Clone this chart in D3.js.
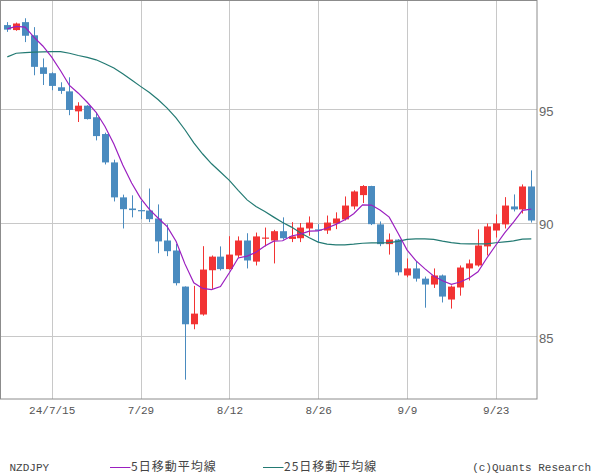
<!DOCTYPE html>
<html><head><meta charset="utf-8">
<script src="https://cdn.jsdelivr.net/npm/d3@7"></script>
<style>
html,body{margin:0;padding:0;background:#fff;}
svg{display:block;}
</style></head>
<body>
<svg id="chart" width="600" height="475"></svg>
<script>
const dates = ["7/8","7/9","7/10","7/11","7/12","7/15","7/16","7/17","7/18","7/19",
"7/22","7/23","7/24","7/25","7/26","7/29","7/30","7/31","8/1","8/2",
"8/5","8/6","8/7","8/8","8/9","8/12","8/13","8/14","8/15","8/16",
"8/19","8/20","8/21","8/22","8/23","8/26","8/27","8/28","8/29","8/30",
"9/2","9/3","9/4","9/5","9/6","9/9","9/10","9/11","9/12","9/13",
"9/16","9/17","9/18","9/19","9/20","9/23","9/24","9/25","9/26","9/27"];
const open = [98.71,98.49,98.84,98.26,96.85,96.59,95.97,95.79,94.91,95.16,94.65,93.91,92.66,91.12,90.63,90.56,90.54,90.19,89.22,88.78,87.19,85.53,85.96,87.91,88.51,87.96,88.56,89.22,88.29,89.32,89.22,89.63,89.29,89.32,89.75,89.71,89.66,89.97,90.15,90.72,91.22,91.62,89.93,89.06,89.26,87.68,87.99,87.54,87.28,87.68,86.62,87.15,87.99,88.12,88.96,89.66,89.93,90.72,90.59,91.60];
const high = [98.84,98.82,99.01,98.62,97.24,96.63,96.19,96.41,95.31,95.18,94.85,93.97,92.78,91.24,91.21,90.96,91.51,90.81,89.93,89.07,87.20,87.22,88.97,88.56,88.96,89.41,89.40,89.54,89.57,89.79,89.69,90.24,90.03,89.99,90.28,89.94,90.32,90.46,91.16,91.43,91.66,91.63,90.06,89.53,89.28,88.43,88.32,87.63,87.99,87.72,87.24,88.12,88.38,89.71,89.97,90.37,91.13,91.25,91.69,92.31];
const low = [98.41,98.46,97.96,96.50,96.07,95.84,95.68,94.74,94.44,94.55,93.63,92.57,90.94,89.75,90.24,90.16,90.03,88.66,88.53,87.24,83.09,85.31,85.91,87.09,87.90,87.94,88.46,87.99,88.12,88.96,88.21,89.26,89.15,89.15,89.43,89.15,89.51,89.72,90.10,90.59,90.87,89.90,88.97,88.60,87.68,87.60,87.41,86.26,87.13,86.49,86.22,86.79,87.46,88.07,88.56,89.35,89.75,90.50,90.41,90.01];
const close = [98.51,98.78,98.24,96.87,96.56,96.03,95.81,94.97,95.16,94.57,93.82,92.66,91.12,90.60,90.56,90.51,90.16,89.18,88.75,87.34,85.53,86.00,87.94,88.51,87.96,88.60,89.22,88.34,89.40,89.35,89.63,89.32,89.40,89.79,90.01,89.66,90.01,90.19,90.76,91.38,91.62,89.94,89.06,89.26,87.82,87.99,87.54,87.28,87.68,86.75,87.19,88.03,88.21,89.00,89.84,89.97,90.76,90.59,91.60,90.10];
const ma5 = [98.54,98.65,98.62,98.18,97.79,97.30,96.70,96.05,95.71,95.31,94.87,94.24,93.47,92.55,91.75,91.09,90.59,90.20,89.83,89.19,88.19,87.36,87.11,87.06,87.19,87.80,88.45,88.53,88.70,88.98,89.19,89.21,89.42,89.50,89.63,89.64,89.77,89.93,90.13,90.40,90.79,90.78,90.55,90.25,89.54,88.81,88.33,87.98,87.66,87.45,87.29,87.39,87.57,87.84,88.45,89.01,89.56,90.03,90.55,90.60];
const ma25 = [97.31,97.47,97.50,97.52,97.53,97.54,97.54,97.47,97.37,97.29,97.18,97.01,96.82,96.57,96.29,96.01,95.74,95.42,95.05,94.62,94.10,93.52,93.03,92.60,92.24,91.87,91.43,91.01,90.72,90.50,90.25,90.01,89.81,89.56,89.34,89.15,89.06,89.03,89.03,89.06,89.10,89.12,89.12,89.13,89.18,89.27,89.29,89.29,89.27,89.19,89.13,89.08,89.07,89.07,89.07,89.12,89.16,89.20,89.28,89.29];
const xTickDates = ["7/15","7/29","8/12","8/26","9/9","9/23"];
const xTickLabels = ["24/7/15","7/29","8/12","8/26","9/9","9/23"];
const yTicks = [85, 90, 95];
const legendItems = ["5日移動平均線", "25日移動平均線"];

const svg = d3.select("#chart");
const W = 537, H = 399;
const x = d3.scalePoint().domain(dates).range([7.3, 531.3]);
const y = d3.scaleLinear().domain([85, 95]).range([336.3, 109.3]);
const blue = "#4a8bbf", red = "#f23333";
const c5 = "#9b1fc0", c25 = "#237a73";

// grid
const grid = svg.append("g");
grid.selectAll("line.v").data(xTickDates).enter().append("line")
  .attr("x1", d => Math.round(x(d)) + 0.5).attr("x2", d => Math.round(x(d)) + 0.5)
  .attr("y1", 0).attr("y2", H).attr("stroke", "#c8c8c8").attr("stroke-width", 1);
grid.selectAll("line.h").data(yTicks).enter().append("line")
  .attr("x1", 0).attr("x2", W)
  .attr("y1", d => Math.round(y(d)) + 0.5).attr("y2", d => Math.round(y(d)) + 0.5)
  .attr("stroke", "#c8c8c8").attr("stroke-width", 1);

// candles
const idx = d3.range(dates.length);
const cg = svg.append("g");
cg.selectAll("line.wick").data(idx).enter().append("line")
  .attr("x1", i => Math.round(x(dates[i])) + 0.5).attr("x2", i => Math.round(x(dates[i])) + 0.5)
  .attr("y1", i => y(high[i])).attr("y2", i => y(low[i]))
  .attr("stroke", i => close[i] >= open[i] ? red : blue).attr("stroke-width", 1);
cg.selectAll("rect.body").data(idx).enter().append("rect")
  .attr("x", i => Math.round(x(dates[i])) - 3)
  .attr("width", 7)
  .attr("y", i => y(Math.max(open[i], close[i])))
  .attr("height", i => Math.max(1.2, Math.abs(y(open[i]) - y(close[i]))))
  .attr("fill", i => close[i] >= open[i] ? red : blue);

// moving averages
const line = arr => d3.line().x((d, i) => x(dates[i])).y(d => y(d))(arr);
svg.append("path").attr("d", line(ma25)).attr("fill", "none").attr("stroke", c25).attr("stroke-width", 1.2);
svg.append("path").attr("d", line(ma5)).attr("fill", "none").attr("stroke", c5).attr("stroke-width", 1.2);

// frame
svg.append("rect").attr("x", 0.5).attr("y", 0.5).attr("width", W - 0.5).attr("height", H - 0.5)
  .attr("fill", "none").attr("stroke", "#8c8c8c").attr("stroke-width", 1);

// axes
const xAxis = d3.axisBottom(x).tickValues(xTickDates).tickSize(0).tickPadding(0)
  .tickFormat(d => xTickLabels[xTickDates.indexOf(d)]);
const gx = svg.append("g").attr("transform", `translate(0,${H + 7})`).call(xAxis);
gx.select(".domain").remove();
gx.selectAll("text").attr("font-family", "'Liberation Mono', monospace").attr("font-size", 11)
  .attr("fill", "#555").attr("dy", "0.71em");

const yAxis = d3.axisRight(y).tickValues(yTicks).tickSize(0).tickPadding(0);
const gy = svg.append("g").attr("transform", `translate(${W + 2},0)`).call(yAxis);
gy.select(".domain").remove();
gy.selectAll("text").attr("font-family", "'Liberation Sans', sans-serif").attr("font-size", 13)
  .attr("fill", "#666").attr("dy", "0.45em");

// legend
const lg = svg.append("g").attr("font-family", "'Liberation Mono', monospace").attr("font-size", 11).attr("fill", "#444");
lg.append("text").attr("x", 9.5).attr("y", 471).text("NZDJPY");
lg.append("line").attr("x1", 110).attr("x2", 130.5).attr("y1", 467.5).attr("y2", 467.5).attr("stroke", c5).attr("stroke-width", 1);
lg.append("text").attr("x", 131).attr("y", 471).attr("font-family", "'Noto Sans CJK JP', sans-serif")
  .attr("font-size", 12).attr("letter-spacing", 1).text(legendItems[0]);
lg.append("line").attr("x1", 263).attr("x2", 283.5).attr("y1", 467.5).attr("y2", 467.5).attr("stroke", c25).attr("stroke-width", 1);
lg.append("text").attr("x", 284).attr("y", 471).attr("font-family", "'Noto Sans CJK JP', sans-serif")
  .attr("font-size", 12).attr("letter-spacing", 1).text(legendItems[1]);
lg.append("text").attr("x", 591).attr("y", 471).attr("text-anchor", "end").text("(c)Quants Research");
</script>
</body></html>
